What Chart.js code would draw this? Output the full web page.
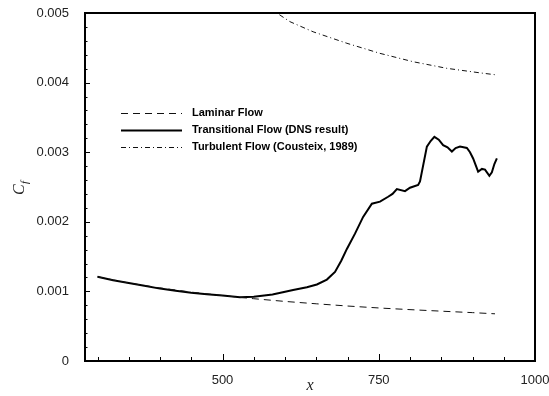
<!DOCTYPE html>
<html>
<head>
<meta charset="utf-8">
<script src="https://cdn.jsdelivr.net/npm/chart.js@4.4.1/dist/chart.umd.min.js"></script>
<style>
  html, body { margin: 0; padding: 0; background: #fff; }
  canvas { display: block; }
</style>
</head>
<body>
<canvas id="chart" width="549" height="396"></canvas>
<script>
// skin friction
const seriesNames = ['Laminar Flow', 'Transitional Flow (DNS result)', 'Turbulent Flow (Cousteix, 1989)'];

const xLaminar = [300, 350, 400, 450, 500, 550, 600, 650, 700, 750, 800, 850, 900, 936];
const cfLaminar = [0.00121, 0.00112, 0.00105, 0.00099, 0.00094, 0.000895, 0.000856, 0.000822,
  0.00079, 0.000762, 0.000738, 0.000716, 0.000695, 0.000678];

const xTrans = [300, 325, 350, 375, 400, 425, 450, 475, 500, 528, 550, 580, 613, 635, 651, 667,
  680, 690, 699, 712, 725, 739, 752, 765, 772, 779, 792, 800, 813, 816, 827, 833, 839, 846, 853,
  860, 867, 873, 880, 891, 896, 901, 909, 915, 920, 927, 931, 935, 939];
const cfTrans = [0.00121, 0.00116, 0.00112, 0.00108, 0.00104, 0.00101, 0.00098, 0.00096, 0.00094,
  0.000915, 0.000922, 0.000955, 0.00102, 0.00106, 0.0011, 0.00117, 0.00128, 0.00144, 0.00161,
  0.00183, 0.00207, 0.00226, 0.00229, 0.00236, 0.0024, 0.00247, 0.00244, 0.00249, 0.00253,
  0.00258, 0.00308, 0.00316, 0.00322, 0.00318, 0.0031, 0.00307, 0.00301, 0.00306, 0.00308,
  0.00306, 0.003, 0.00291, 0.00272, 0.00276, 0.00275, 0.00266, 0.00271, 0.00283, 0.00291];

const xTurb = [575, 592, 608, 645, 699, 752, 805, 859, 912, 939];
const cfTurb = [0.00507, 0.00497, 0.004875, 0.00473, 0.004565, 0.00442, 0.0043, 0.004205, 0.00414, 0.00411];

// axis ticks
const xMajorTicks = [500, 750, 1000];
const xMinorTicks = [300, 350, 400, 450, 550, 600, 650, 700, 800, 850, 900, 950];
const yMajorTicks = [0, 0.001, 0.002, 0.003, 0.004, 0.005];
const yMinorTicks = [0.0002, 0.0004, 0.0006, 0.0008, 0.0012, 0.0014, 0.0016, 0.0018,
  0.0022, 0.0024, 0.0026, 0.0028, 0.0032, 0.0034, 0.0036, 0.0038,
  0.0042, 0.0044, 0.0046, 0.0048];

const toPoints = (xs, ys) => xs.map((x, i) => ({ x, y: ys[i] }));

// ticks pointing inward, frame, axis titles and the in-plot legend
const framePlugin = {
  id: 'frame',
  afterDatasetsDraw(chart) {
    const { ctx, chartArea: a, scales } = chart;
    const xs = scales.x;
    const ys = scales.y;
    ctx.save();
    ctx.strokeStyle = '#000';
    ctx.lineWidth = 1;
    ctx.beginPath();
    xMajorTicks.forEach((v) => {
      const px = Math.round(xs.getPixelForValue(v)) + 0.5;
      ctx.moveTo(px, a.bottom); ctx.lineTo(px, a.bottom - 7);
    });
    xMinorTicks.forEach((v) => {
      const px = Math.round(xs.getPixelForValue(v)) + 0.5;
      ctx.moveTo(px, a.bottom); ctx.lineTo(px, a.bottom - 4);
    });
    yMajorTicks.forEach((v) => {
      const py = Math.round(ys.getPixelForValue(v)) + 0.5;
      ctx.moveTo(a.left, py); ctx.lineTo(a.left + 5, py);
    });
    yMinorTicks.forEach((v) => {
      const py = Math.round(ys.getPixelForValue(v)) + 0.5;
      ctx.moveTo(a.left, py); ctx.lineTo(a.left + 2.5, py);
    });
    ctx.stroke();

    ctx.lineWidth = 2;
    ctx.strokeRect(a.left, a.top, a.right - a.left, a.bottom - a.top);

    // axis titles
    ctx.fillStyle = '#222';
    ctx.textBaseline = 'alphabetic';
    ctx.textAlign = 'center';
    ctx.font = 'italic 16px "Liberation Serif"';
    ctx.fillText('x', (a.left + a.right) / 2, 390);

    ctx.save();
    ctx.translate(24, 189);
    ctx.rotate(-Math.PI / 2);
    ctx.textAlign = 'left';
    ctx.font = 'italic 16px "Liberation Serif"';
    ctx.fillText('C', -6, 0);
    ctx.font = 'italic 11px "Liberation Serif"';
    ctx.fillText('f', 5, 4);
    ctx.restore();

    // legend
    const rows = [112.5, 130, 147];
    ctx.font = 'bold 11px "Liberation Sans"';
    ctx.textAlign = 'left';
    ctx.textBaseline = 'middle';
    chart.data.datasets.forEach((ds, i) => {
      const y = Math.round(rows[i]) + 0.5;
      ctx.save();
      ctx.strokeStyle = ds.borderColor;
      ctx.lineWidth = ds.borderWidth;
      ctx.setLineDash(ds.borderDash || []);
      ctx.beginPath();
      ctx.moveTo(121, y);
      ctx.lineTo(182, y);
      ctx.stroke();
      ctx.restore();
      ctx.fillStyle = '#000';
      ctx.fillText(ds.label, 192, rows[i]);
    });
    ctx.restore();
  },
};

new Chart(document.getElementById('chart'), {
  type: 'scatter',
  data: {
    datasets: [
      {
        label: seriesNames[0],
        data: toPoints(xLaminar, cfLaminar),
        showLine: true,
        borderColor: '#111',
        borderWidth: 1,
        borderDash: [7, 5],
        pointRadius: 0,
        clip: 0,
      },
      {
        label: seriesNames[1],
        data: toPoints(xTrans, cfTrans),
        showLine: true,
        borderColor: '#000',
        borderWidth: 2,
        pointRadius: 0,
        clip: 0,
      },
      {
        label: seriesNames[2],
        data: toPoints(xTurb, cfTurb),
        showLine: true,
        borderColor: '#111',
        borderWidth: 1,
        borderDash: [5, 3, 1, 3],
        pointRadius: 0,
        clip: 0,
      },
    ],
  },
  options: {
    responsive: false,
    animation: false,
    devicePixelRatio: 1,
    layout: { padding: { top: 13, right: 14, left: 0, bottom: 0 } },
    plugins: { legend: { display: false }, tooltip: { enabled: false } },
    scales: {
      x: {
        type: 'linear',
        min: 280,
        max: 1000,
        grid: { display: false },
        border: { display: false },
        afterBuildTicks: (scale) => { scale.ticks = xMajorTicks.map((value) => ({ value })); },
        afterFit: (scale) => { scale.height = 35; scale.paddingLeft = 0; scale.paddingRight = 0; },
        ticks: {
          padding: 4,
          color: '#222',
          font: { family: 'Liberation Sans', size: 13 },
          maxRotation: 0,
          autoSkip: false,
          callback: (v) => String(v),
        },
      },
      y: {
        type: 'linear',
        min: 0,
        max: 0.005,
        grid: { display: false },
        border: { display: false },
        afterBuildTicks: (scale) => { scale.ticks = yMajorTicks.map((value) => ({ value })); },
        afterFit: (scale) => { scale.width = 85; scale.paddingTop = 0; scale.paddingBottom = 0; },
        ticks: {
          padding: 8,
          color: '#222',
          font: { family: 'Liberation Sans', size: 13 },
          callback: (v) => (v === 0 ? '0' : v.toFixed(3)),
        },
      },
    },
  },
  plugins: [framePlugin],
});
</script>
</body>
</html>
